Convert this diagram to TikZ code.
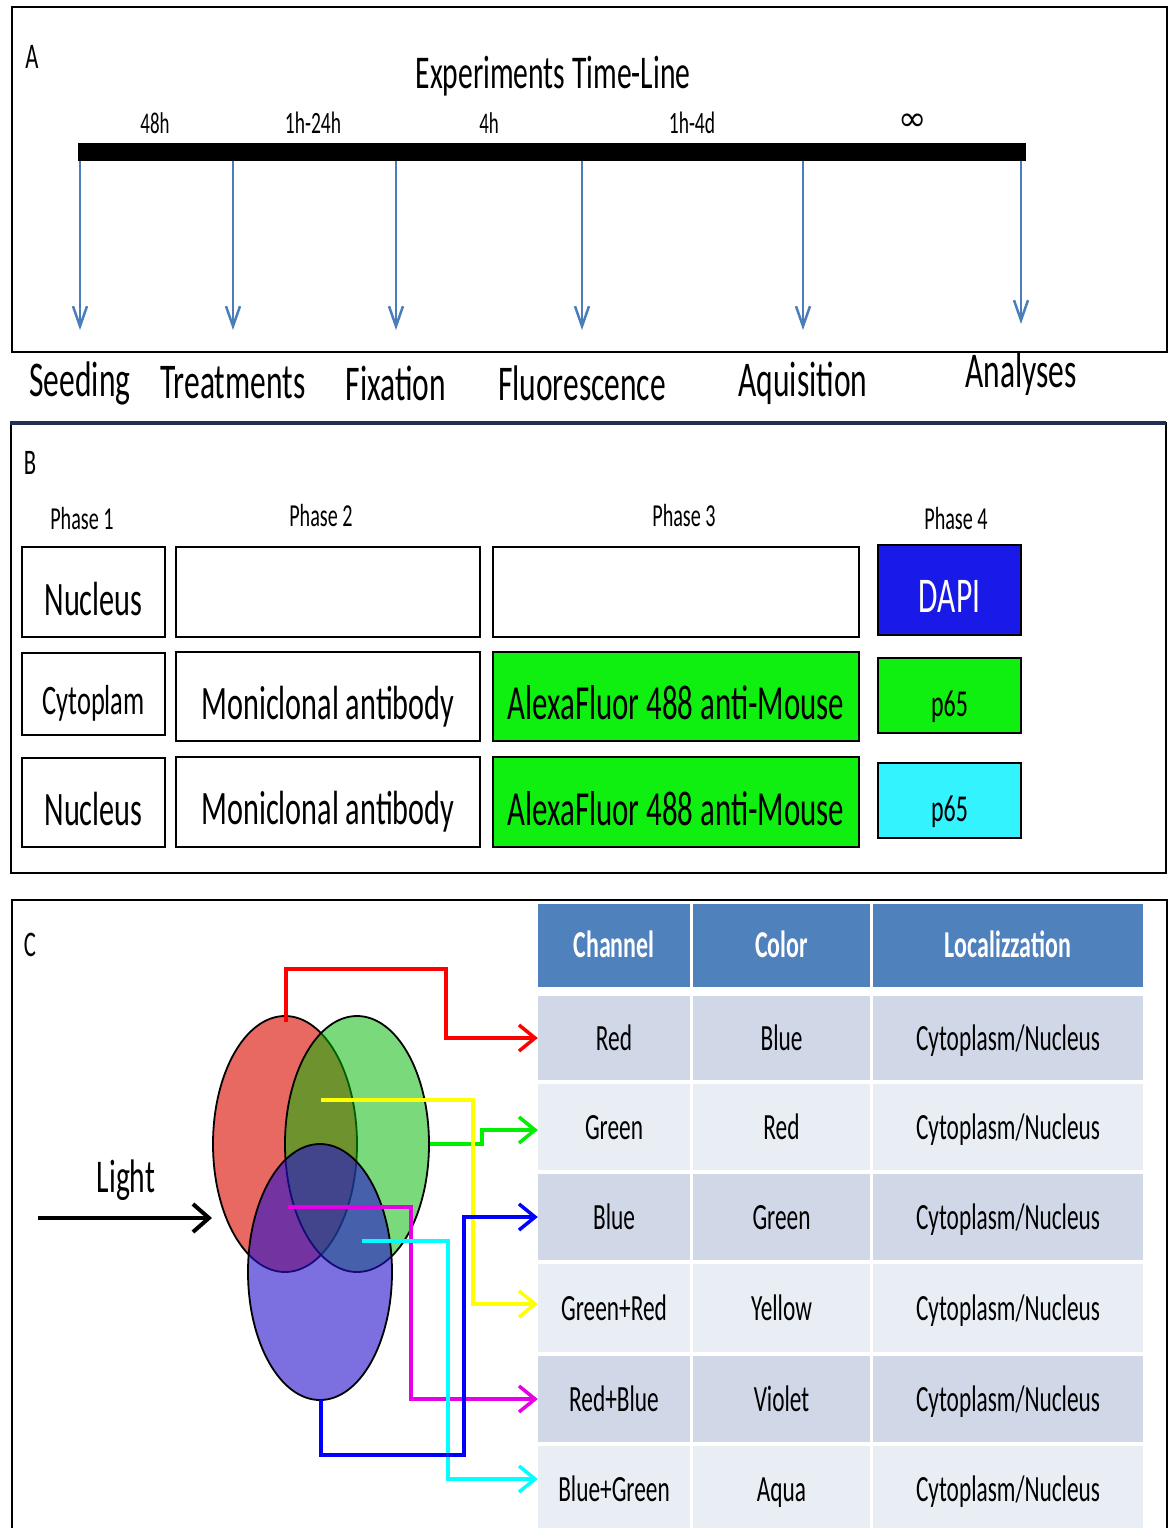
\documentclass[tikz,border=0pt]{standalone}
\usepackage{fontspec}
\setmainfont{Carlito}[FakeStretch=0.63]
\newfontfamily\dejavu{DejaVu Sans}
\usetikzlibrary{arrows.meta,shapes.geometric}
\newcommand\fsz[1]{\fontsize{#1}{#1}\selectfont}
\definecolor{tlblue}{HTML}{4A7EBB}
\definecolor{hdr}{HTML}{4F81BD}
\definecolor{rowA}{HTML}{D0D8E8}
\definecolor{rowB}{HTML}{E9EDF4}
\definecolor{dapi}{HTML}{1A1AE8}
\definecolor{gbox}{HTML}{10F010}
\definecolor{cbox}{HTML}{33F3FF}
\definecolor{navy}{HTML}{1F3050}
\definecolor{vred}{HTML}{D90D00}
\definecolor{vgreen}{HTML}{00B800}
\definecolor{vblue}{HTML}{2610CC}
\definecolor{cred}{HTML}{FF0000}
\definecolor{cgreen}{HTML}{00EE00}
\definecolor{cyellow}{HTML}{FFFF00}
\definecolor{cblue}{HTML}{0000FF}
\definecolor{cmag}{HTML}{E600E6}
\definecolor{ccyan}{HTML}{00FFFF}
\begin{document}
\begin{tikzpicture}[x=1pt,y=-1pt,
  txt/.style={inner sep=0pt, anchor=center},
  tlarrow/.style={draw=tlblue, line width=2.5pt, -{Straight Barb[length=20pt,width=14pt]}},
  bbox/.style={draw=black, line width=2pt, inner sep=0pt, anchor=center},
  th/.style={text height=#1, text depth=0pt},
  cell/.style={inner sep=0pt, anchor=center, text=black, font=\fsz{37}, th=25pt},
  hcell/.style={inner sep=0pt, anchor=center, fill=hdr, text=white, font=\fsz{38}\bfseries, th=24pt},
  conn/.style={line width=3.5pt, -{Straight Barb[length=16pt,width=26pt]}},
  venn/.style={ellipse, draw=black, line width=1.8pt, minimum width=144pt, minimum height=256pt, inner sep=0pt}
]
\useasboundingbox (0,0) rectangle (1171,1528);
\fill[white] (0,0) rectangle (1171,1528);

% ---------------- Panel A ----------------
\draw[line width=2.5pt] (12,7) rectangle (1167,352);
\node[txt, font=\fsz{36}] (labA) at (32,57) {A};
\node[txt, font=\fsz{47}] (title) at (553,76) {Experiments Time-Line};
\node[fill=black, minimum width=948pt, minimum height=18pt, inner sep=0pt] (bar) at (552,152) {};
\node[txt, font=\fsz{30}] (d1) at (155,123) {48h};
\node[txt, font=\fsz{31}] (d2) at (313,123) {1h-24h};
\node[txt, font=\fsz{30}] (d3) at (489,123) {4h};
\node[txt, font=\fsz{31}] (d4) at (692,123) {1h-4d};
\node[txt, font=\dejavu\fontsize{34}{34}\selectfont] (d5) at (913,122) {∞};
\coordinate (e1) at (80,330);
\coordinate (e2) at (233,330);
\coordinate (e3) at (396,330);
\coordinate (e4) at (582,330);
\coordinate (e5) at (803,330);
\coordinate (e6) at (1021,324);
\foreach \i in {1,...,6} { \draw[tlarrow] (bar.south -| e\i) -- (e\i); }
\node[txt, font=\fsz{50}] (s1) at (80,383) {Seeding};
\node[txt, font=\fsz{50}] (s2) at (233,383) {Treatments};
\node[txt, font=\fsz{50}] (s3) at (396,383) {Fixation};
\node[txt, font=\fsz{50}] (s4) at (582,383) {Fluorescence};
\node[txt, font=\fsz{50}] (s5) at (803,383) {Aquisition};
\node[txt, font=\fsz{50}] (s6) at (1021,374) {Analyses};

% ---------------- Panel B ----------------
\draw[line width=2pt] (11,423) rectangle (1166,873);
\draw[navy, line width=3.5pt] (10,423) -- (1166,423);
\node[txt, font=\fsz{36}] (labB) at (30,463) {B};
\node[txt, font=\fsz{32}] (ph1) at (82,519) {Phase 1};
\node[txt, font=\fsz{32}] (ph2) at (321,516) {Phase 2};
\node[txt, font=\fsz{32}] (ph3) at (684,516) {Phase 3};
\node[txt, font=\fsz{32}] (ph4) at (956,519) {Phase 4};
% row 1
\node[bbox, minimum width=143pt, minimum height=90pt, font=\fsz{48}, th=46pt] (b11) at (93.5,592) {Nucleus};
\node[bbox, minimum width=304pt, minimum height=90pt] (b12) at (328,592) {};
\node[bbox, minimum width=366pt, minimum height=90pt] (b13) at (676,592) {};
\node[bbox, fill=dapi, text=white, minimum width=143pt, minimum height=90pt, font=\fsz{50}, th=44pt] (b14) at (949.5,590) {DAPI};
% row 2
\node[bbox, minimum width=143pt, minimum height=82pt, font=\fsz{42}, th=41pt] (b21) at (93.5,694) {Cytoplam};
\node[bbox, minimum width=304pt, minimum height=89pt, font=\fsz{48}, th=45pt] (b22) at (328,696.5) {Moniclonal antibody};
\node[bbox, fill=gbox, minimum width=366pt, minimum height=89pt, font=\fsz{49}, th=46pt] (b23) at (676,696.5) {AlexaFluor 488 anti-Mouse};
\node[bbox, fill=gbox, minimum width=143pt, minimum height=75pt, font=\fsz{38}, th=41pt] (b24) at (949.5,695.5) {p65};
% row 3
\node[bbox, minimum width=143pt, minimum height=89pt, font=\fsz{48}, th=46pt] (b31) at (93.5,802.5) {Nucleus};
\node[bbox, minimum width=304pt, minimum height=90pt, font=\fsz{48}, th=45pt] (b32) at (328,802) {Moniclonal antibody};
\node[bbox, fill=gbox, minimum width=366pt, minimum height=90pt, font=\fsz{49}, th=46pt] (b33) at (676,802) {AlexaFluor 488 anti-Mouse};
\node[bbox, fill=cbox, minimum width=143pt, minimum height=75pt, font=\fsz{38}, th=41pt] (b34) at (949.5,800.5) {p65};

% ---------------- Panel C ----------------
\draw[line width=2pt] (12,1545) -- (12,900) -- (1167,900) -- (1167,1545);
\node[txt, font=\fsz{36}] (labC) at (30,945) {C};
% table header
\node[hcell, minimum width=152pt, minimum height=83pt] (h1) at (614,945.5) {Channel};
\node[hcell, minimum width=177pt, minimum height=83pt] (h2) at (781.5,945.5) {Color};
\node[hcell, minimum width=270pt, minimum height=83pt] (h3) at (1008,945.5) {Localizzation};
% table body
\foreach \rr/\yc/\hh/\fc/\chn/\clr in {
  1/1038/84/rowA/Red/Blue,
  2/1127/86/rowB/Green/Red,
  3/1217/86/rowA/Blue/Green,
  4/1308/88/rowB/Green+Red/Yellow,
  5/1399/86/rowA/Red+Blue/Violet,
  6/1489/86/rowB/Blue+Green/Aqua} {
  \node[cell, fill=\fc, minimum width=152pt, minimum height=\hh pt] (c\rr1) at (614,\yc) {\chn};
  \node[cell, fill=\fc, minimum width=177pt, minimum height=\hh pt] (c\rr2) at (781.5,\yc) {\clr};
  \node[cell, fill=\fc, minimum width=270pt, minimum height=\hh pt] (c\rr3) at (1008,\yc) {Cytoplasm/Nucleus};
}
% Venn
\node[venn, fill=vred, fill opacity=0.62] (vr) at (285,1144) {};
\node[venn, fill=vgreen, fill opacity=0.52] (vg) at (357,1144) {};
\node[venn, fill=vblue, fill opacity=0.6] (vb) at (320,1272) {};
% light
\node[txt, font=\fsz{47}] (light) at (126,1180) {Light};
\coordinate (ls) at (38,1218);
\coordinate (le) at (212,1218);
\draw[line width=4pt, -{Straight Barb[length=16pt,width=28pt]}] (ls) -- (le);
% connectors
\coordinate (rs) at (286,1022);
\coordinate (gs) at (430,1144);
\coordinate (ys) at (321,1100);
\coordinate (ms) at (288,1207);
\coordinate (cs) at (362,1241);
\coordinate (bs) at (321,1400);
\draw[conn, cred] (rs) -- (286,969) -- (446,969) |- (c11.west);
\draw[conn, cgreen] (gs) -- (482,1144) |- ([yshift=-3pt]c21.west);
\draw[conn, cyellow] (ys) -- (473,1100) |- ([yshift=4pt]c41.west);
\draw[conn, cmag] (ms) -- (411,1207) |- (c51.west);
\draw[conn, ccyan] (cs) -- (448,1241) |- ([yshift=10pt]c61.west);
\draw[conn, cblue] (bs) -- (321,1455) -- (464,1455) |- (c31.west);
\end{tikzpicture}
\end{document}
